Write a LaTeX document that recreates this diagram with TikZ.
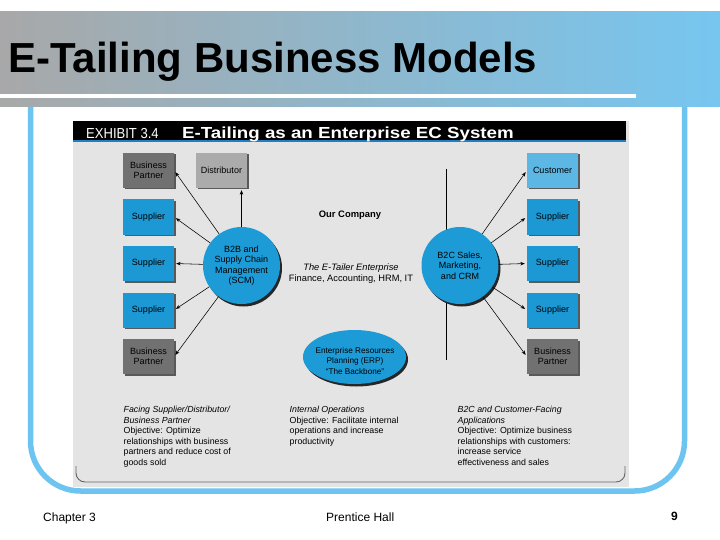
\documentclass[tikz,border=0pt]{standalone}
\usepackage{fontspec}
\usepackage{graphicx}
\setmainfont{Liberation Sans}
\usetikzlibrary{arrows.meta,shadows,shapes.geometric}
\definecolor{titlegray}{HTML}{A8A8A8}
\definecolor{titleblue}{HTML}{76C6F0}
\definecolor{framec}{HTML}{6DC4F0}
\definecolor{panel}{HTML}{E4E4E4}
\definecolor{hdrblue}{HTML}{1F7FC4}
\definecolor{circblue}{HTML}{1C9BD7}
\definecolor{supblue}{HTML}{1C98D4}
\definecolor{custblue}{HTML}{5DB7E5}
\definecolor{bpgray}{HTML}{717171}
\definecolor{distgray}{HTML}{ABABAB}
\newcommand{\myfs}[2]{\fontsize{#1}{#2}\selectfont}
\begin{document}
\begin{tikzpicture}[x=1pt,y=-1pt,
  box/.style={minimum width=51pt, minimum height=35pt, inner sep=0pt, align=center,
    font=\myfs{9}{10.5},
    drop shadow={shadow xshift=1.5pt, shadow yshift=-1.5pt, opacity=1, fill=black!65}},
  supbox/.style={box, fill=supblue},
  bpbox/.style={box, fill=bpgray},
  circ/.style={circle, fill=circblue, minimum size=77pt, inner sep=0pt, align=center,
    font=\myfs{9}{10.5},
    drop shadow={shadow xshift=2pt, shadow yshift=-2.5pt, opacity=1, fill=black!85}},
  arr/.style={-{Stealth[length=4.5pt,width=3.5pt]}, line width=0.55pt, shorten >=2pt},
  note/.style={anchor=north west, align=left, inner sep=0pt, font=\myfs{8.8}{10.6}},
]
\useasboundingbox (0,0) rectangle (720,540);
\fill[white] (0,0) rectangle (720,540);
% title bar
\shade[left color=titlegray, right color=titleblue] (0,12) rectangle (720,107);
\fill[white] (0,94) rectangle (636,98);
\node[anchor=base west, font=\bfseries\myfs{42}{42}, inner sep=0pt] (title) at (8,73) {E-Tailing Business Models};
% frame
\draw[framec, line width=5.5pt, rounded corners=50pt] (30.5,107) -- (30.5,491) -- (684.5,491) -- (684.5,107);
% exhibit panel
\fill[panel] (73,121) rectangle (629,487);
\fill[black] (73,121) rectangle (626,140.5);
\fill[hdrblue] (73,140.5) rectangle (626,142.5);
\draw[black!60, line width=0.9pt, rounded corners=9pt] (76,466) -- (76,482) -- (625,482) -- (625,466);
\node[anchor=base west, white, font=\myfs{14.5}{14.5}, inner sep=0pt] (exh) at (86,138.5) {\scalebox{0.9}[1]{EXHIBIT 3.4}};
\node[anchor=base west, white, font=\bfseries\myfs{16}{16}, inner sep=0pt] (exhtitle) at (182,138.5) {\scalebox{1.17}[1]{E-Tailing as an Enterprise EC System}};
% left column
\node[bpbox] (bpl1) at (148.5,170.5) {Business\\Partner};
\node[supbox] (supl1) at (148.5,217) {Supplier};
\node[supbox] (supl2) at (148.5,263.5) {Supplier};
\node[supbox] (supl3) at (148.5,310) {Supplier};
\node[bpbox] (bpl2) at (148.5,356.5) {Business\\Partner};
\node[box, fill=distgray] (dist) at (221.5,170.5) {Distributor};
% right column
\node[box, fill=custblue] (cust) at (552.5,170.5) {Customer};
\node[supbox] (supr1) at (552.5,217) {Supplier};
\node[supbox] (supr2) at (552.5,263.5) {Supplier};
\node[supbox] (supr3) at (552.5,310) {Supplier};
\node[bpbox] (bpr2) at (552.5,356.5) {Business\\Partner};
% middle texts
\node[font=\bfseries\myfs{9.4}{9.4}] (ourco) at (350,215) {Our Company};
\node[font=\itshape\myfs{9.3}{9.3}] (ete) at (351,268) {The E-Tailer Enterprise};
\node[font=\myfs{9.3}{9.3}] (fin) at (351,279) {Finance, Accounting, HRM, IT};
% vertical line
\coordinate (vt) at (446,169);
\coordinate (vb) at (446,360);
\draw[line width=0.6pt] (vt) -- (vb);
% circles
\node[circ] (b2b) at (241.5,265.5) {B2B and\\Supply Chain\\Management\\(SCM)};
\node[circ] (b2c) at (460,265.5) {B2C Sales,\\Marketing,\\and CRM};
\node[ellipse, fill=circblue, minimum width=103pt, minimum height=54pt, inner sep=0pt,
  drop shadow={shadow xshift=2pt, shadow yshift=-2.5pt, opacity=1, fill=black!85}] (erp) at (354.5,357) {};
\node[align=center, inner sep=0pt, font=\myfs{8.2}{10.6}] (erptext) at (355,361) {Enterprise Resources\\Planning (ERP)\\``The Backbone''};
% arrows
\draw[arr] (b2b) -- (bpl1.east);
\draw[arr] (b2b) -- (supl1.east);
\draw[arr] (b2b) -- (supl2.east);
\draw[arr] (b2b) -- (supl3.east);
\draw[arr] (b2b) -- (bpl2.east);
\draw[arr] (b2b.north) -- (b2b.north |- dist.south);
\draw[arr] (b2c) -- (cust.west);
\draw[arr] (b2c) -- (supr1.west);
\draw[arr] (b2c) -- (supr2.west);
\draw[arr] (b2c) -- (supr3.west);
\draw[arr] (b2c) -- (bpr2.west);
% notes
\node[note] (n1) at (123.5,406) {\textit{Facing Supplier/Distributor/}\\\textit{Business Partner}\\Objective: Optimize\\relationships with business\\partners and reduce cost of\\goods sold};
\node[note] (n2) at (289.5,406) {\textit{Internal Operations}\\Objective: Facilitate internal\\operations and increase\\productivity};
\node[note] (n3) at (457.5,406) {\textit{B2C and Customer-Facing}\\\textit{Applications}\\Objective: Optimize business\\relationships with customers:\\increase service\\effectiveness and sales};
% footer
\node[anchor=base west, font=\myfs{12}{12}, inner sep=0pt] (ch) at (43,521.5) {Chapter 3};
\node[anchor=base west, font=\myfs{12}{12}, inner sep=0pt] (ph) at (326,521.5) {Prentice Hall};
\node[anchor=base east, font=\bfseries\myfs{12}{12}, inner sep=0pt] (pg) at (678,520.5) {9};
\end{tikzpicture}
\end{document}
